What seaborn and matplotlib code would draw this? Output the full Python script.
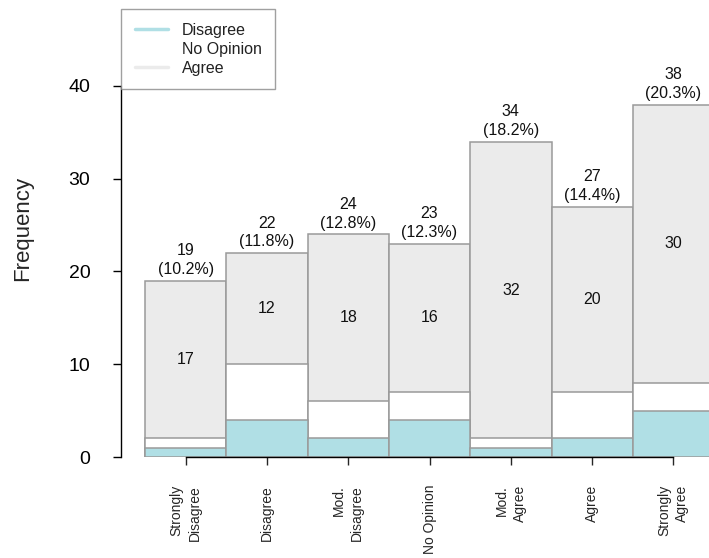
import matplotlib
matplotlib.use("Agg")
import matplotlib.pyplot as plt
from matplotlib.lines import Line2D
import seaborn as sns
import numpy as np

# Response categories and counts per group
categories = ["Strongly\nDisagree", "Disagree", "Mod.\nDisagree", "No Opinion",
              "Mod.\nAgree", "Agree", "Strongly\nAgree"]
disagree = [1, 4, 2, 4, 1, 2, 5]
no_opinion = [1, 6, 4, 3, 1, 5, 3]
agree = [17, 12, 18, 16, 32, 20, 30]

legend_labels = ["Disagree", "No Opinion", "Agree"]
col_disagree = "#B0DFE5"
col_noop = "#FFFFFF"
col_agree = "#EBEBEB"
edge = "#9A9A9A"

sns.set_style("white")
plt.rcParams["font.family"] = ["Liberation Sans", "DejaVu Sans"]

d = np.array(disagree)
n = np.array(no_opinion)
a = np.array(agree)
totals = d + n + a
cum_dn = d + n
grand = totals.sum()

fig = plt.figure(figsize=(7.09, 5.58), dpi=100)
ax = fig.add_axes([121 / 709, 101 / 558, 588 / 709, 457 / 558])

# Stacked bars drawn as overlapping cumulative layers
for vals, col in [(totals, col_agree), (cum_dn, col_noop), (d, col_disagree)]:
    sns.barplot(x=categories, y=vals, color=col, saturation=1, width=1.0,
                edgecolor=edge, linewidth=1.1, ax=ax, order=categories)

# Count of agree segment in its middle, total and share above each bar
for i in range(len(categories)):
    ax.text(i, cum_dn[i] + a[i] / 2, f"{a[i]}", ha="center", va="center",
            fontsize=11.5, color="#111111")
    ax.annotate(f"{totals[i]}", (i, totals[i]), xytext=(0, 21.5),
                textcoords="offset points", ha="center", va="center",
                fontsize=11.5, color="#111111", annotation_clip=False)
    ax.annotate(f"({100 * totals[i] / grand:.1f}%)", (i, totals[i]),
                xytext=(0, 8), textcoords="offset points", ha="center",
                va="center", fontsize=11.5, color="#111111",
                annotation_clip=False)

ax.set_xlim(-0.795, 6.437)
ax.set_ylim(0, 49.27)
ax.set_yticks([0, 10, 20, 30, 40])
ax.set_xticks(range(len(categories)))
ax.set_xticklabels(categories, rotation=90, ha="center", va="top",
                   multialignment="right", linespacing=1.35, fontsize=10)
ax.tick_params(axis="y", labelsize=14, length=6, width=1, pad=16,
               left=True, colors="#000000")
ax.tick_params(axis="x", length=6, width=1, pad=14, bottom=True)

for side in ["top", "right"]:
    ax.spines[side].set_visible(False)
ax.spines["left"].set_bounds(0, 40)
ax.spines["bottom"].set_bounds(0, 6)
for side in ["left", "bottom"]:
    ax.spines[side].set_color("black")
    ax.spines[side].set_linewidth(1.0)
    ax.spines[side].set_zorder(5)

ax.set_ylabel("Frequency", fontsize=16)
ax.yaxis.set_label_coords(-0.15, 0.5)
ax.set_xlabel("")

handles = [Line2D([0], [0], color=c, lw=2.5)
           for c in [col_disagree, col_noop, col_agree]]
leg = fig.legend(handles, legend_labels, loc="upper left",
                 bbox_to_anchor=(121 / 709, 1 - 9 / 558),
                 bbox_transform=fig.transFigure, borderaxespad=0,
                 fontsize=11.5, frameon=True, fancybox=False,
                 handlelength=2.1, handletextpad=0.85, labelspacing=0.26,
                 borderpad=0.85)
leg.get_frame().set_edgecolor("#888888")
leg.get_frame().set_linewidth(1.0)
for t in leg.get_texts():
    t.set_color("#222222")

fig.savefig("out.png", dpi=100)
